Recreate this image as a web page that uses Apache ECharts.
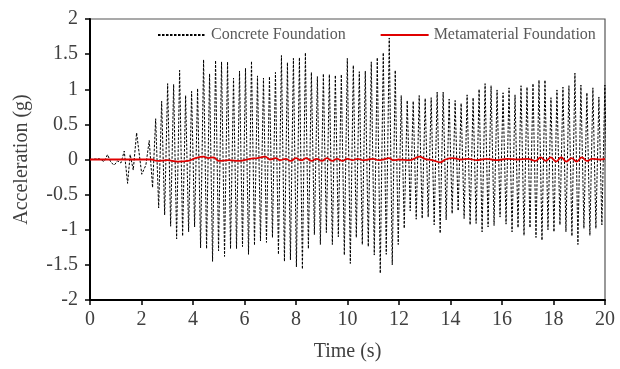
<!DOCTYPE html>
<html>
<head>
<meta charset="utf-8">
<script src="https://cdn.jsdelivr.net/npm/echarts@6/dist/echarts.min.js"></script>
<style>
  html, body { margin: 0; padding: 0; background: #fff; }
  #chart { width: 620px; height: 369px; }
</style>
</head>
<body>
<div id="chart"></div>
<script>
// Concrete foundation: irregular onset before the steady response (time s, acceleration g)
const onsetTimes  = [0, 0.36, 0.55, 0.68, 0.81, 0.94, 1.07, 1.20, 1.33, 1.46, 1.56, 1.68, 1.81, 2.01, 2.17, 2.30, 2.43];
const onsetValues = [0, 0.01, -0.03, 0.07, -0.04, -0.08, -0.02, -0.05, 0.12, -0.34, 0.07, -0.15, 0.38, -0.21, -0.08, 0.27, -0.40];

// Steady response: crest and trough of every cycle, in order
const firstCrestTime = 2.55;   // s
const halfCycle = 0.1163;      // s between a crest and the next trough
const crestValues = [
  0.58, 0.83, 1.08, 1.07, 1.27, 0.91, 0.97, 1.01, 1.42, 1.22, 1.41,
  1.39, 1.39, 1.16, 1.26, 1.30, 1.40, 1.19, 1.16, 1.18, 1.24, 1.48,
  1.38, 1.44, 1.45, 1.52, 1.24, 1.18, 1.22, 1.21, 1.20, 1.21, 1.44,
  1.34, 1.25, 1.26, 1.39, 1.45, 1.52, 1.73, 1.27, 0.91, 0.84, 0.83,
  0.91, 0.87, 0.88, 0.96, 0.96, 0.86, 0.84, 0.80, 0.92, 0.88,
  1.00, 1.08, 1.05, 0.99, 0.95, 1.02, 0.92, 1.05, 1.03, 1.08, 1.13,
  1.13, 0.88, 0.99, 1.03, 1.05, 1.23, 1.06, 0.95, 1.02, 0.89, 1.06
];
const troughValues = [
  -0.69, -0.79, -0.95, -1.13, -1.09, -1.03, -0.96, -1.26, -1.27, -1.45,
  -1.30, -1.38, -1.27, -1.27, -1.24, -1.35, -1.22, -1.16, -1.18, -1.11, -1.35,
  -1.45, -1.43, -1.53, -1.56, -1.27, -1.07, -1.21, -1.04, -1.21, -1.10, -1.36,
  -1.48, -1.11, -1.21, -1.24, -1.36, -1.62, -1.35, -1.50, -1.21, -0.98, -0.73,
  -0.85, -0.84, -0.82, -0.93, -1.05, -0.86, -0.77, -0.73, -0.84, -0.93,
  -0.91, -1.03, -0.96, -0.94, -0.82, -0.92, -1.03, -0.97, -1.08, -0.97, -1.11,
  -1.15, -1.00, -1.03, -0.93, -1.03, -1.09, -1.21, -0.98, -1.08, -0.98, -0.93, -1.11
];

// Metamaterial foundation response
const metaTimes = [0, 2.4, 2.6, 3.0, 3.4, 3.8, 4.1, 4.4, 4.6, 4.8, 5.0, 5.4, 5.8, 6.2, 6.5, 6.8, 7.0, 7.2, 7.4, 7.6, 7.8,
  8.0, 8.2, 8.4, 8.6, 8.8, 9.0, 9.2, 9.4, 9.6, 9.8, 10.0, 10.2, 10.4, 10.6, 10.8, 11.0, 11.2, 11.4, 11.6, 11.8,
  12.0, 12.4, 12.8, 13.0, 13.3, 13.6, 13.8, 14.1, 14.4, 14.7, 15.0, 15.4, 15.8, 16.2, 16.6, 17.0, 17.3, 17.5,
  17.7, 17.9, 18.1, 18.3, 18.5, 18.7, 18.9, 19.1, 19.3, 19.5, 19.8, 20.0];
const metaValues = [0, 0, -0.02, -0.01, -0.03, -0.02, 0.02, 0.04, 0.02, 0.03, -0.02, -0.01, -0.02, 0.01, 0.02, 0.04, 0.00, 0.02, -0.01, 0.01, -0.02,
  0.02, -0.01, 0.02, -0.02, 0.01, -0.02, 0.02, -0.02, 0.01, -0.02, 0.01, -0.01, 0.01, -0.01, 0.00, 0.01, -0.01, 0.00, 0.02, -0.01,
  0.00, -0.01, 0.04, 0.01, -0.01, -0.04, 0.00, 0.02, 0.00, 0.01, -0.01, 0.01, -0.01, 0.01, 0.00, 0.01, -0.02, 0.03,
  -0.02, 0.03, -0.03, 0.03, -0.03, 0.02, -0.03, 0.03, -0.02, 0.01, 0.00, 0.01];

// Axis ticks
const xMin = 0, xMax = 20, xStep = 2;
const yMin = -2, yMax = 2, yStep = 0.5;

const concreteData = onsetTimes.map((t, i) => [t, onsetValues[i]]);
crestValues.forEach((v, i) => {
  const t = firstCrestTime + 2 * i * halfCycle;
  concreteData.push([t, v]);
  if (i < troughValues.length) concreteData.push([t + halfCycle, troughValues[i]]);
});
const metaData = metaTimes.map((t, i) => [t, metaValues[i]]);

const serif = 'Liberation Serif';
const textGray = '#404040';

const chart = echarts.init(document.getElementById('chart'), null, { renderer: 'canvas' });
chart.setOption({
  animation: false,
  backgroundColor: '#fff',
  grid: {
    left: 90, right: 15, top: 19, bottom: 69,
    show: true, borderColor: '#555', borderWidth: 1.2, backgroundColor: 'transparent'
  },
  legend: {
    left: 152, top: 22,
    itemWidth: 48, itemHeight: 10, itemGap: 34,
    itemStyle: { opacity: 0 },
    textStyle: { fontFamily: serif, fontSize: 16, color: '#595959' },
    data: ['Concrete Foundation', 'Metamaterial Foundation']
  },
  xAxis: {
    type: 'value', min: xMin, max: xMax, interval: xStep,
    name: 'Time (s)', nameLocation: 'middle', nameGap: 42,
    nameTextStyle: { fontFamily: serif, fontSize: 20, color: textGray },
    axisLine: { onZero: false, lineStyle: { color: '#000', width: 2 } },
    axisTick: { show: true, length: 5, inside: false, lineStyle: { color: '#000', width: 1.5 } },
    axisLabel: { fontFamily: serif, fontSize: 20, color: textGray, margin: 10 },
    splitLine: { show: false }
  },
  yAxis: {
    type: 'value', min: yMin, max: yMax, interval: yStep,
    name: 'Acceleration (g)', nameLocation: 'middle', nameGap: 58,
    nameTextStyle: { fontFamily: serif, fontSize: 20, color: textGray },
    axisLine: { onZero: false, lineStyle: { color: '#000', width: 2 } },
    axisTick: { show: true, length: 5, inside: false, lineStyle: { color: '#000', width: 1.5 } },
    axisLabel: { fontFamily: serif, fontSize: 20, color: textGray, margin: 12 },
    splitLine: { show: false }
  },
  series: [
    {
      name: 'Concrete Foundation',
      type: 'line',
      data: concreteData,
      showSymbol: false, symbol: 'none',
      lineStyle: { color: '#000', width: 1, type: [2.5, 1.5] },
      itemStyle: { color: '#000' },
      z: 2
    },
    {
      name: 'Metamaterial Foundation',
      type: 'line',
      data: metaData,
      smooth: 0.4,
      showSymbol: false, symbol: 'none',
      lineStyle: { color: '#e00000', width: 1.8 },
      itemStyle: { color: '#e00000' },
      z: 3
    }
  ]
});
</script>
</body>
</html>
